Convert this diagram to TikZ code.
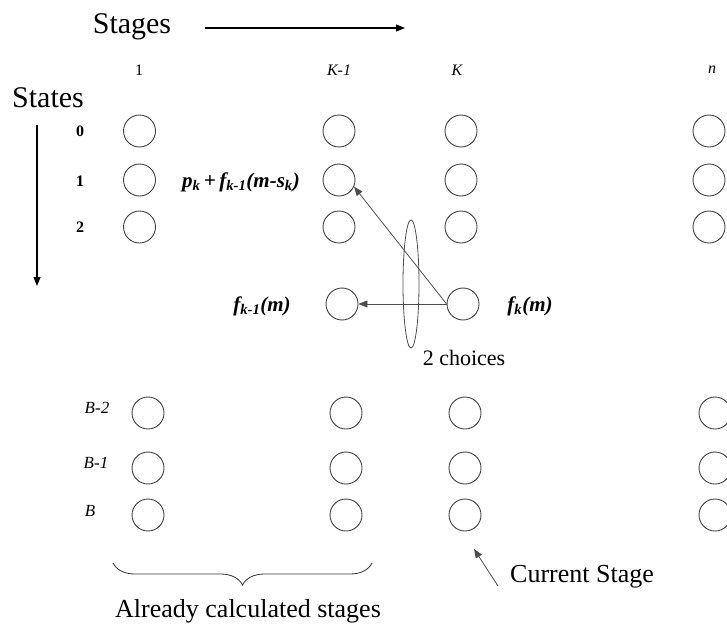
\documentclass[tikz,border=0pt]{standalone}
\usepackage{fontspec}
\setmainfont{Liberation Serif}
\usetikzlibrary{arrows.meta,shapes.geometric,decorations.pathreplacing}

\tikzset{
  state/.style={circle, draw=black!75, line width=0.9pt, minimum size=32pt, inner sep=0pt},
  biglabel/.style={font=\fontsize{30}{32}\selectfont, inner sep=0pt},
  caption/.style={font=\fontsize{26}{28}\selectfont, inner sep=0pt},
  smalllabel/.style={font=\fontsize{16}{18}\selectfont\itshape, inner sep=0pt},
  rowlabel/.style={font=\fontsize{16}{18}\selectfont\bfseries, inner sep=0pt},
  vallabel/.style={font=\fontsize{21}{24}\selectfont\bfseries\itshape, inner sep=0pt},
  axisarrow/.style={line width=1.1pt, -{Triangle[length=9pt,width=7pt]}},
  choicearrow/.style={draw=black!70, line width=0.8pt, -{Triangle[length=9pt,width=7pt]}}
}

\begin{document}
\begin{tikzpicture}[x=1pt, y=-1pt]
  \useasboundingbox (0,0) rectangle (727,626);

  % axis captions and their arrows
  \node[biglabel] (stages) at (132,27) {Stages};
  \coordinate (stgA) at (205,28);
  \coordinate (stgB) at (405,28);
  \draw[axisarrow] (stgA) -- (stgB);

  \node[biglabel] (states) at (48,98) {States};
  \coordinate (stsA) at (37,125);
  \coordinate (stsB) at (37,286);
  \draw[axisarrow] (stsA) -- (stsB);

  % stage headings
  \node[font=\fontsize{16}{18}\selectfont, inner sep=0pt] (h1) at (139,70) {1};
  \node[smalllabel] (hK1) at (339,70) {K-1};
  \node[smalllabel] (hK) at (457,70) {K};
  \node[smalllabel] (hn) at (712,70) {n};

  % state headings
  \node[rowlabel] (s0) at (80,131) {0};
  \node[rowlabel] (s1) at (80,181) {1};
  \node[rowlabel] (s2) at (80,227) {2};
  \node[smalllabel, font=\fontsize{17}{19}\selectfont\itshape] (sB2) at (97,408) {B-2};
  \node[smalllabel, font=\fontsize{17}{19}\selectfont\itshape] (sB1) at (96,463) {B-1};
  \node[smalllabel, font=\fontsize{17}{19}\selectfont\itshape] (sB) at (90,511) {B};

  % upper states
  \foreach \r/\y in {0/131, 1/180, 2/227} {
    \node[state] (a\r) at (139.5,\y) {};
    \node[state] (b\r) at (339,\y) {};
    \node[state] (c\r) at (461,\y) {};
    \node[state] (d\r) at (709,\y) {};
  }

  % state m of stages K-1 and K
  \node[state] (bm) at (342,304) {};
  \node[state] (cm) at (463,304) {};

  % lower states
  \foreach \r/\y in {B2/413, B1/468, B/515} {
    \node[state] (a\r) at (148,\y) {};
    \node[state] (b\r) at (346,\y) {};
    \node[state] (c\r) at (465,\y) {};
    \node[state] (d\r) at (715,\y) {};
  }

  % value labels
  \node[vallabel, anchor=east] (pk) at (300,182)
    {p\textsubscript{k}\,+\,f\textsubscript{k-1}(m-s\textsubscript{k})};
  \node[vallabel] (fk1) at (262,306) {f\textsubscript{k-1}(m)};
  \node[vallabel] (fk) at (530,306) {f\textsubscript{k}(m)};

  % the two choices
  \draw[choicearrow] (cm.west) -- (bm.east);
  \draw[choicearrow] (cm.west) -- (b1.-24);
  \node[ellipse, draw=black!70, line width=0.8pt, minimum width=16pt,
        minimum height=128pt, inner sep=0pt] (choice) at (411,284) {};
  \node[font=\fontsize{22}{24}\selectfont, inner sep=0pt] (two) at (464,358) {2 choices};

  % bottom annotations
  \coordinate (brR) at (372,563);
  \coordinate (brL) at (113,563);
  \draw[black!80, line width=0.8pt,
        decorate, decoration={brace, amplitude=22pt, aspect=0.5}] (brR) -- (brL);
  \node[caption] (already) at (248,611) {Already calculated stages};

  \node[caption] (current) at (582,577) {Current Stage};
  \coordinate (curA) at (498,586);
  \coordinate (curB) at (474,549);
  \draw[choicearrow] (curA) -- (curB);
\end{tikzpicture}
\end{document}
